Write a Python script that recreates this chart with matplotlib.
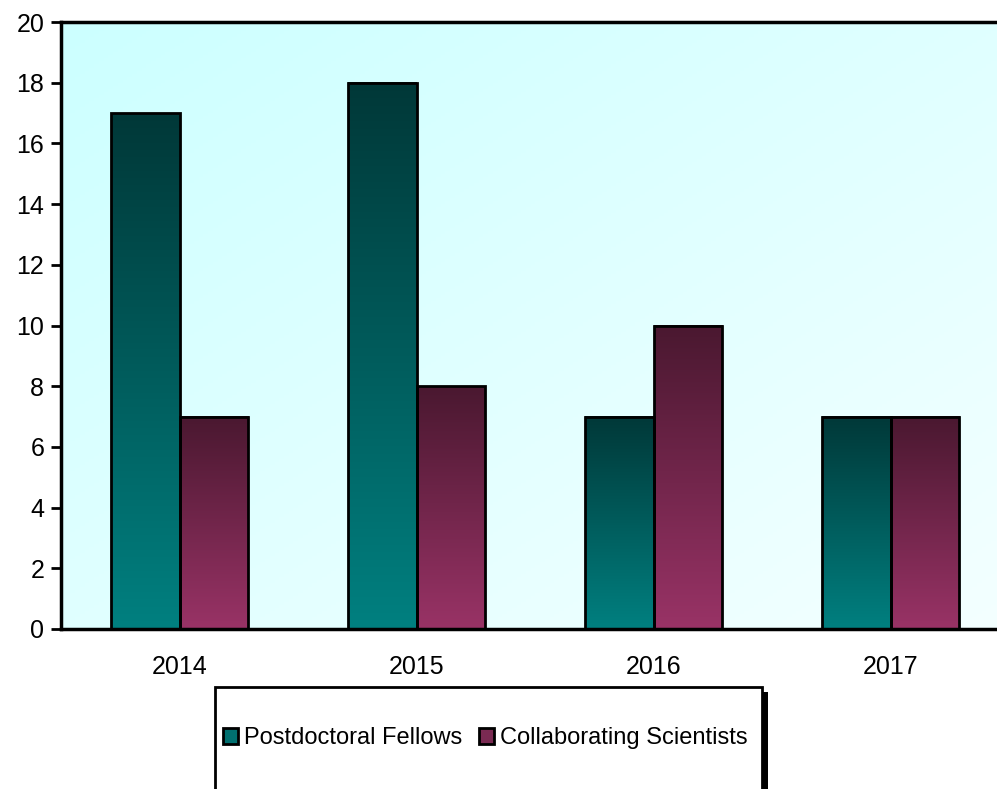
import numpy as np
import matplotlib.pyplot as plt
from matplotlib.colors import LinearSegmentedColormap
from matplotlib.patches import Rectangle, Patch

plt.rcParams['font.family'] = ['Liberation Sans', 'DejaVu Sans']

years = ['2014', '2015', '2016', '2017']
postdocs = [17, 18, 7, 7]
collaborators = [7, 8, 10, 7]
series_names = ['Postdoctoral Fellows', 'Collaborating Scientists']

teal = LinearSegmentedColormap.from_list('teal', ['#008080', '#013838'])
plum = LinearSegmentedColormap.from_list('plum', ['#993366', '#4a1830'])

W, H = 997, 789
fig = plt.figure(figsize=(W / 100, H / 100), dpi=100)
ax = fig.add_axes([61 / W, (H - 629) / H, 948 / W, 607 / H])

# pale cyan backdrop fading towards the lower right
yy, xx = np.mgrid[0:1:200j, 0:1:200j]
shade = (xx + (1 - yy)) / 2
bg = LinearSegmentedColormap.from_list('bg', ['#ccffff', '#f4ffff'])
ax.imshow(shade, cmap=bg, extent=[0, 1, 0, 1], transform=ax.transAxes,
          aspect='auto', zorder=0, origin='lower')

x = np.arange(len(years))
width = 0.287
grad = np.linspace(0, 1, 256).reshape(-1, 1)


def gradient_bars(xpos, values, cmap):
    bars = ax.bar(xpos, values, width, facecolor='none', edgecolor='black',
                  linewidth=2, zorder=3)
    for b in bars:
        x0, y0 = b.get_x(), b.get_y()
        ax.imshow(grad, cmap=cmap, origin='lower', aspect='auto',
                  extent=[x0, x0 + b.get_width(), y0, y0 + b.get_height()],
                  zorder=2)
    return bars


gradient_bars(x - width / 2, postdocs, teal)
gradient_bars(x + width / 2, collaborators, plum)

ax.set_xlim(-0.5, len(years) - 0.5)
ax.set_ylim(0, 20)
ax.set_yticks(range(0, 21, 2))
ax.set_xticks(x)
ax.set_xticklabels(years)
ax.tick_params(axis='y', length=7, width=2, labelsize=18, pad=5)
ax.tick_params(axis='x', length=0, labelsize=18, pad=19)
for side in ['left', 'bottom', 'top']:
    ax.spines[side].set_linewidth(2.5)
ax.spines['right'].set_visible(False)

# legend box with a drop shadow on the right
fig.patches.append(Rectangle((762 / W, -0.1), 6 / W, (H - 692) / H + 0.1,
                             transform=fig.transFigure, facecolor='black',
                             edgecolor='none', zorder=1))
fig.patches.append(Rectangle((215 / W, -0.1), (762 - 215) / W, (H - 687) / H + 0.1,
                             transform=fig.transFigure, facecolor='white',
                             edgecolor='black', linewidth=2, zorder=2))
handles = [Patch(facecolor='#017070', edgecolor='black', linewidth=2),
           Patch(facecolor='#7a2a52', edgecolor='black', linewidth=2)]
fig.legend(handles, series_names, loc='center', bbox_to_anchor=(485 / W, (H - 738) / H),
           ncol=2, frameon=False, fontsize=17, handlelength=0.65, handleheight=0.65,
           handletextpad=0.25, columnspacing=0.7, borderpad=0)

fig.savefig('out.png', dpi=100)
